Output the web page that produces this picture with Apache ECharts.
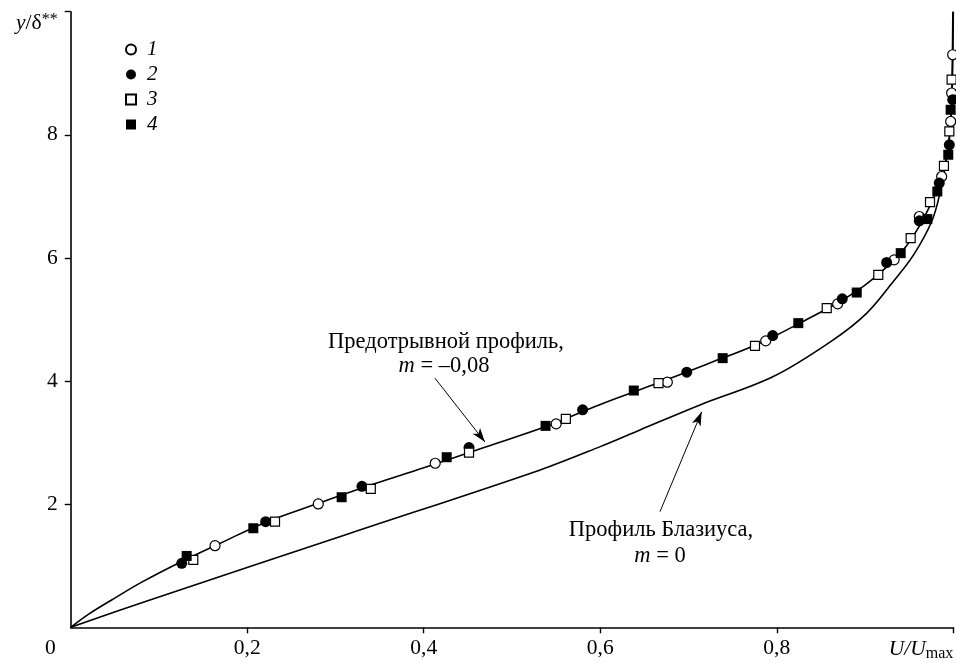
<!DOCTYPE html>
<html>
<head>
<meta charset="utf-8">
<script src="https://cdn.jsdelivr.net/npm/echarts@6/dist/echarts.min.js"></script>
<style>
  html, body { margin: 0; padding: 0; background: #fff; }
  #chart { width: 956px; height: 663px; }
</style>
</head>
<body>
<div id="chart"></div>
<script>
// Velocity profiles U/Umax versus y/δ** (Falkner–Skan family)
const FONT = 'Liberation Serif';

// Tick values
const xTicks = [0.2, 0.4, 0.6, 0.8, 1.0];
const xLabels = [0, 0.2, 0.4, 0.6, 0.8, 1.0];
const yTicks = [2, 4, 6, 8, 10];

// Pre-separation profile, m = -0.08
const preSepU = [0, 0.02, 0.0464, 0.08, 0.1258, 0.17, 0.22, 0.28, 0.34, 0.40, 0.47, 0.54, 0.60, 0.66, 0.72, 0.78, 0.83, 0.87, 0.90, 0.925, 0.945, 0.96, 0.972, 0.982, 0.989, 0.994, 0.997, 0.9985, 0.9995];
const preSepY = [0, 0.21, 0.444, 0.73, 1.07, 1.37, 1.70, 2.01, 2.31, 2.59, 2.93, 3.27, 3.62, 3.94, 4.27, 4.61, 4.97, 5.28, 5.56, 5.86, 6.16, 6.48, 6.80, 7.12, 7.45, 7.75, 8.20, 8.80, 10.0];

// Blasius profile, m = 0
const blasiusU = [0, 0.0898, 0.3167, 0.532, 0.60, 0.645, 0.713, 0.796, 0.864, 0.902, 0.932, 0.955, 0.9755, 0.9849, 0.9925, 0.997, 0.999, 1.0];
const blasiusY = [0, 0.444, 1.528, 2.557, 2.935, 3.206, 3.612, 4.073, 4.669, 5.103, 5.617, 6.05, 6.592, 7.054, 7.648, 8.2, 8.9, 10.0];

// Measurements, series 1 (open circles)
const s1U = [0.1635, 0.2805, 0.413, 0.550, 0.676, 0.7875, 0.869, 0.933, 0.9615, 0.9868, 0.997, 0.9981, 0.9993];
const s1Y = [1.326, 2.004, 2.665, 3.304, 3.982, 4.653, 5.254, 5.969, 6.673, 7.323, 8.217, 8.679, 9.301];

// Series 2 (filled circles)
const s2U = [0.1258, 0.2209, 0.330, 0.4513, 0.580, 0.698, 0.7954, 0.8742, 0.9245, 0.9615, 0.9841, 0.9955, 0.9993];
const s2Y = [1.040, 1.716, 2.29, 2.919, 3.532, 4.144, 4.739, 5.336, 5.926, 6.603, 7.216, 7.838, 8.570];

// Series 3 (open squares)
const s3U = [0.1389, 0.2315, 0.340, 0.4513, 0.561, 0.666, 0.7753, 0.8566, 0.915, 0.9517, 0.9736, 0.9894, 0.9955, 0.9981];
const s3Y = [1.094, 1.716, 2.25, 2.838, 3.385, 3.965, 4.572, 5.184, 5.726, 6.322, 6.907, 7.497, 8.055, 8.895];

// Series 4 (filled squares)
const s4U = [0.1314, 0.2069, 0.307, 0.426, 0.538, 0.638, 0.7387, 0.8244, 0.8906, 0.9404, 0.9706, 0.9819, 0.9943, 0.997];
const s4Y = [1.159, 1.609, 2.113, 2.763, 3.272, 3.846, 4.372, 4.941, 5.438, 6.078, 6.631, 7.080, 7.676, 8.407];

const seriesNames = ['1', '2', '3', '4'];

const zip = (a, b) => a.map((v, i) => [v, b[i]]);

const openStyle = { color: '#ffffff', borderColor: '#000000', borderWidth: 1.2, opacity: 1 };
const fillStyle = { color: '#000000', borderColor: '#000000', borderWidth: 0, opacity: 1 };

const TICK_SIZE = 21.5;
const NOTE_FONT = '22.5px "Liberation Serif"';

const arrowLine = (from, to) => ({
  silent: true,
  symbol: ['none', 'arrow'],
  symbolSize: [7, 14],
  label: { show: false },
  lineStyle: { color: '#000', width: 1, type: 'solid' },
  emphasis: { disabled: true },
  data: [[{ coord: from }, { coord: to }]]
});

const chart = echarts.init(document.getElementById('chart'), null, { renderer: 'canvas' });

chart.setOption({
  animation: false,
  backgroundColor: '#ffffff',
  textStyle: { fontFamily: FONT },
  grid: { left: 70.7, right: 2.7, top: 11.7, bottom: 35.7, outerBoundsMode: 'none', containLabel: false },
  xAxis: {
    type: 'value', min: 0, max: 1, interval: 0.2,
    splitLine: { show: false },
    axisLine: { lineStyle: { color: '#000', width: 1.6 } },
    axisTick: { show: true, length: 6, customValues: xTicks, lineStyle: { color: '#000', width: 1.4 } },
    axisLabel: {
      customValues: xLabels,
      margin: 10,
      color: '#000', fontFamily: FONT, fontSize: TICK_SIZE,
      alignMinLabel: 'right', alignMaxLabel: 'right',
      formatter: v => {
        if (v === 0) return '{z|0}';
        if (v === 1) return '{i|U/U}{s|max}';
        return v.toFixed(1).replace('.', ',');
      },
      rich: {
        z: { fontFamily: FONT, fontSize: TICK_SIZE, color: '#000', padding: [0, 15, 0, 0] },
        i: { fontFamily: FONT, fontSize: TICK_SIZE, fontStyle: 'italic', color: '#000' },
        s: { fontFamily: FONT, fontSize: 16, color: '#000', padding: [8, 0, 0, 0] }
      }
    }
  },
  yAxis: {
    type: 'value', min: 0, max: 10, interval: 2,
    splitLine: { show: false },
    axisLine: { lineStyle: { color: '#000', width: 1.6 } },
    axisTick: { show: true, length: 6, customValues: yTicks, lineStyle: { color: '#000', width: 1.4 } },
    axisLabel: {
      customValues: yTicks,
      margin: 13,
      color: '#000', fontFamily: FONT, fontSize: TICK_SIZE,
      verticalAlignMaxLabel: 'top',
      formatter: v => v === 10 ? '{i|y}{n|/δ}{p|**}' : String(v),
      rich: {
        i: { fontFamily: FONT, fontSize: TICK_SIZE, fontStyle: 'italic', color: '#000' },
        n: { fontFamily: FONT, fontSize: TICK_SIZE, color: '#000' },
        p: { fontFamily: FONT, fontSize: 16, color: '#000', padding: [0, 0, 8, 0] }
      }
    }
  },
  legend: {
    orient: 'vertical', left: 120, top: 34,
    itemWidth: 10, itemHeight: 10, itemGap: 4,
    data: seriesNames,
    textStyle: { fontFamily: FONT, fontSize: 21, fontStyle: 'italic', color: '#000', padding: [0, 0, 0, 6] },
    selectedMode: false
  },
  series: [
    {
      name: 'preSeparation', type: 'line', data: zip(preSepU, preSepY),
      smooth: 0.35, showSymbol: false, symbol: 'none', silent: true,
      lineStyle: { color: '#000', width: 1.6 }, z: 2,
      markLine: arrowLine([0.4127, 4.047], [0.4694, 3.01])
    },
    {
      name: 'blasius', type: 'line', data: zip(blasiusU, blasiusY),
      smooth: 0.35, showSymbol: false, symbol: 'none', silent: true,
      lineStyle: { color: '#000', width: 1.6 }, z: 2,
      markLine: arrowLine([0.6677, 1.879], [0.7149, 3.50])
    },
    { name: '1', type: 'scatter', symbol: 'circle', symbolSize: 10, data: zip(s1U, s1Y), itemStyle: openStyle, z: 3 },
    { name: '2', type: 'scatter', symbol: 'circle', symbolSize: 11, data: zip(s2U, s2Y), itemStyle: fillStyle, z: 3 },
    { name: '3', type: 'scatter', symbol: 'rect', symbolSize: 9, data: zip(s3U, s3Y), itemStyle: openStyle, z: 3 },
    { name: '4', type: 'scatter', symbol: 'rect', symbolSize: 10, data: zip(s4U, s4Y), itemStyle: fillStyle, z: 3 }
  ],
  graphic: [
    { type: 'text', x: 446, y: 342, style: { text: 'Предотрывной профиль,', font: NOTE_FONT, fill: '#000', align: 'center', verticalAlign: 'middle' } },
    { type: 'text', x: 444, y: 366, style: {
      text: '{i|m} = –0,08', font: NOTE_FONT, fill: '#000', align: 'center', verticalAlign: 'middle',
      rich: { i: { fontFamily: FONT, fontSize: 22.5, fontStyle: 'italic', fill: '#000' } } } },
    { type: 'text', x: 661, y: 530, style: { text: 'Профиль Блазиуса,', font: NOTE_FONT, fill: '#000', align: 'center', verticalAlign: 'middle' } },
    { type: 'text', x: 660, y: 556, style: {
      text: '{i|m} = 0', font: NOTE_FONT, fill: '#000', align: 'center', verticalAlign: 'middle',
      rich: { i: { fontFamily: FONT, fontSize: 22.5, fontStyle: 'italic', fill: '#000' } } } }
  ]
});
</script>
</body>
</html>
